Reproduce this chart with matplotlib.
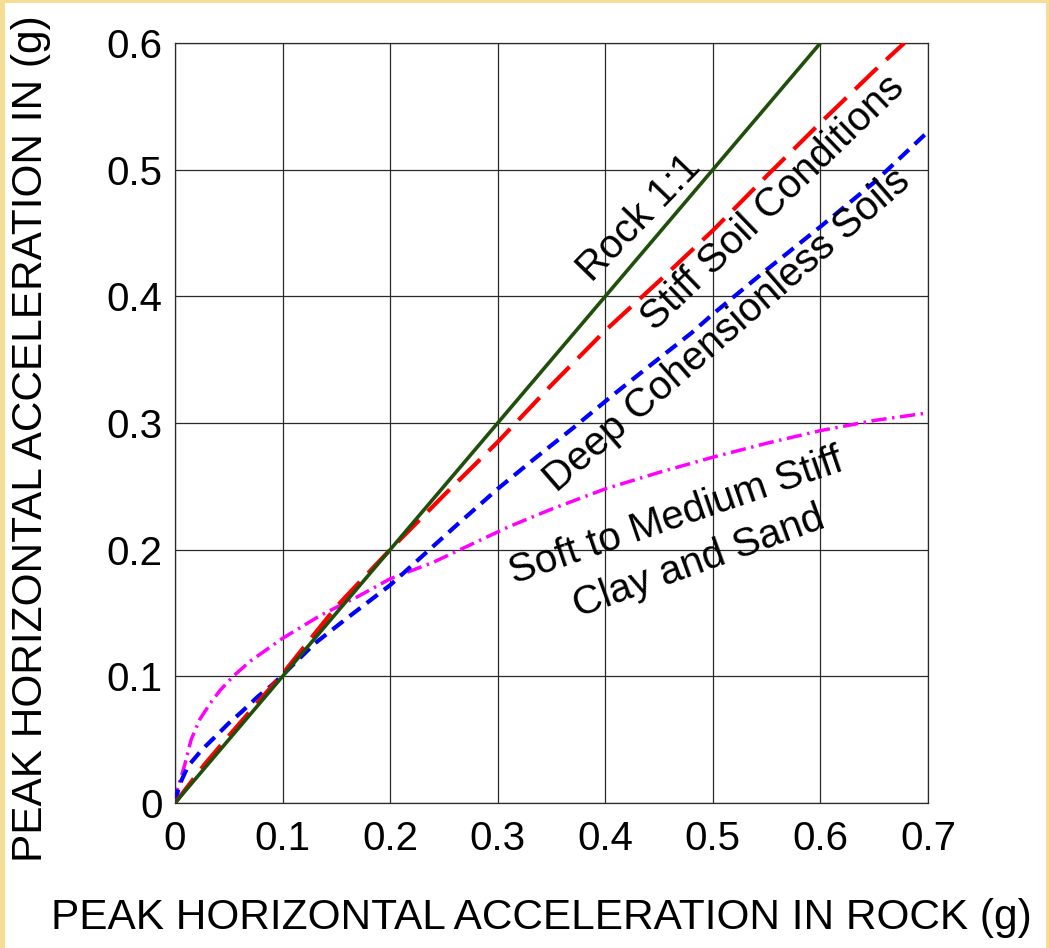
import matplotlib.pyplot as plt
from matplotlib.patches import Rectangle

plt.rcParams['font.family'] = ['Liberation Sans', 'DejaVu Sans']

# rock (1:1)
rock_x = [0.0, 0.6]
rock_y = [0.0, 0.6]

# stiff soil conditions
stiff_x = [0.0, 0.027, 0.05, 0.1, 0.15, 0.2, 0.25, 0.3, 0.35, 0.4, 0.45, 0.5, 0.55, 0.6, 0.65, 0.678]
stiff_y = [0.0, 0.030, 0.053, 0.102, 0.155, 0.2, 0.243, 0.285, 0.330, 0.373, 0.412, 0.452, 0.495, 0.537, 0.578, 0.6]

# deep cohesionless soils
deep_x = [0.0, 0.004, 0.012, 0.025, 0.037, 0.05, 0.062, 0.077, 0.09, 0.1, 0.13, 0.16, 0.2, 0.23,
          0.26, 0.3, 0.333, 0.37, 0.407, 0.444, 0.48, 0.5, 0.55, 0.6, 0.65, 0.7]
deep_y = [0.0, 0.014, 0.029, 0.042, 0.052, 0.063, 0.072, 0.084, 0.093, 0.101, 0.126, 0.146, 0.172, 0.195,
          0.218, 0.248, 0.271, 0.296, 0.322, 0.347, 0.371, 0.386, 0.421, 0.455, 0.490, 0.530]

# soft to medium stiff clay and sand
soft_x = [0.0, 0.002, 0.009, 0.015, 0.023, 0.033, 0.042, 0.054, 0.07, 0.085, 0.1, 0.135, 0.17, 0.2,
          0.24, 0.27, 0.31, 0.35, 0.4, 0.45, 0.5, 0.55, 0.6, 0.65, 0.7]
soft_y = [0.0, 0.010, 0.030, 0.050, 0.066, 0.079, 0.089, 0.100, 0.112, 0.121, 0.130, 0.148, 0.163, 0.177,
          0.190, 0.202, 0.218, 0.232, 0.248, 0.261, 0.273, 0.284, 0.294, 0.302, 0.308]

x_ticks = [0, 0.1, 0.2, 0.3, 0.4, 0.5, 0.6, 0.7]
x_tick_labels = ["0", "0.1", "0.2", "0.3", "0.4", "0.5", "0.6", "0.7"]
y_ticks = [0, 0.1, 0.2, 0.3, 0.4, 0.5, 0.6]
y_tick_labels = ["0", "0.1", "0.2", "0.3", "0.4", "0.5", "0.6"]

fig = plt.figure(figsize=(10.49, 9.48), dpi=100)
fig.patch.set_facecolor('#f7dc96')
# white page inside the thin yellow frame
fig.patches.append(Rectangle((5 / 1049, 0), 1041 / 1049, 945 / 948, transform=fig.transFigure,
                             facecolor='white', edgecolor='none', zorder=-10))

ax = fig.add_axes([175 / 1049, 1 - 803 / 948, 753 / 1049, 760 / 948])
ax.set_facecolor('white')

ax.plot(rock_x, rock_y, color='#1f4f0a', lw=2.6, solid_capstyle='round', zorder=5)
ax.plot(stiff_x, stiff_y, color='#ff0000', lw=3.0, dashes=(7.4, 2.9), zorder=4)
ax.plot(deep_x, deep_y, color='#0000ff', lw=3.0, dashes=(3.3, 1.9), zorder=3)
ax.plot(soft_x, soft_y, color='#ff00ff', lw=2.5, dashes=(4.4, 1.6, 0.7, 1.6), zorder=2)

ax.set_xlim(0, 0.7)
ax.set_ylim(0, 0.6)
ax.set_xticks(x_ticks)
ax.set_xticklabels(x_tick_labels)
ax.set_yticks(y_ticks)
ax.set_yticklabels(y_tick_labels)
ax.tick_params(length=0, labelsize=29)
ax.tick_params(axis='x', pad=12)
ax.tick_params(axis='y', pad=9)
ax.grid(True, color='#2a2a2a', lw=0.9)
for s in ax.spines.values():
    s.set_color('#2a2a2a')
    s.set_linewidth(0.9)

ax.set_xlabel("PEAK HORIZONTAL ACCELERATION IN ROCK (g)", fontsize=30.5)
ax.set_ylabel("PEAK HORIZONTAL ACCELERATION IN (g)", fontsize=30.5)
ax.xaxis.set_label_coords(0.486, -0.125)
ax.yaxis.set_label_coords(-0.165, 0.479)

txt = dict(fontsize=29, ha='center', va='center', rotation_mode='anchor', zorder=6)
ax.text(0.432, 0.462, "Rock 1:1", rotation=46, **txt)
ax.text(0.556, 0.474, "Stiff Soil Conditions", rotation=44, **txt)
ax.text(0.513, 0.373, "Deep Cohensionless Soils", rotation=41, **txt)
ax.text(0.466, 0.226, "Soft to Medium Stiff", rotation=19, **txt)
ax.text(0.487, 0.190, "Clay and Sand", rotation=20, **txt)

fig.savefig("out.png", dpi=100)
